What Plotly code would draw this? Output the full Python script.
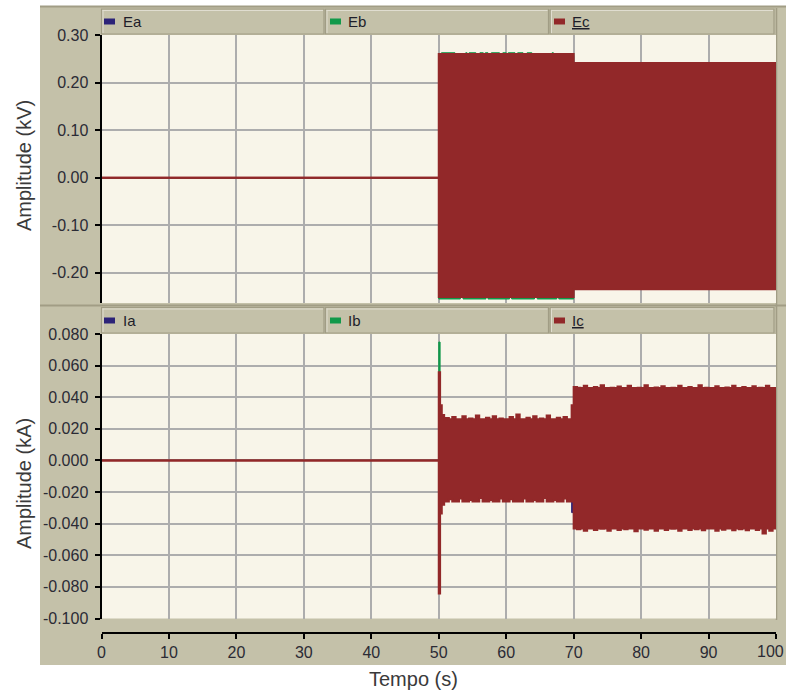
import plotly.graph_objects as go

W, H = 786, 694

# ---------------- data ----------------
X_TICKS = [0, 10, 20, 30, 40, 50, 60, 70, 80, 90, 100]
X_TICK_TEXT = ["0", "10", "20", "30", "40", "50", "60", "70", "80", "90", "100"]

V_TICKS = [-0.20, -0.10, 0.00, 0.10, 0.20, 0.30]
V_TICK_TEXT = ["-0.20", "-0.10", "0.00", "0.10", "0.20", "0.30"]

I_TICKS = [-0.100, -0.080, -0.060, -0.040, -0.020, 0.000, 0.020, 0.040, 0.060, 0.080]
I_TICK_TEXT = ["-0.100", "-0.080", "-0.060", "-0.040", "-0.020",
               "0.000", "0.020", "0.040", "0.060", "0.080"]

# Voltage envelopes (kV): step times and upper / lower envelope levels
EA_T = [0.0, 50.0, 70.0, 100.0]
EA_UP = [0.0, 0.255, 0.238, 0.238]
EA_LO = [0.0, -0.248, -0.232, -0.232]

EB_UP_T = [0.0, 50.0, 50.4, 52.4, 54.0, 54.2, 54.5, 55.5, 56.1, 56.6, 56.9, 57.3,
           57.8, 59.0, 59.5, 60.0, 60.3, 61.3, 61.7, 62.5, 63.1, 63.8, 66.8, 67.0,
           70.0, 100.0]
EB_UP = [0.0, 0.2585, 0.2627, 0.2585, 0.2627, 0.2585, 0.2627, 0.2585, 0.2627, 0.2585,
         0.2627, 0.2585, 0.2627, 0.2585, 0.2627, 0.2585, 0.2627, 0.2585, 0.2627, 0.2585,
         0.2627, 0.2585, 0.2627, 0.2585, 0.236, 0.236]
EB_LO_T = [0.0, 50.0, 53.2, 53.6, 57.0, 57.3, 60.5, 60.8, 64.2, 64.6, 67.5, 67.8,
           70.0, 100.0]
EB_LO = [0.0, -0.2550, -0.249, -0.2550, -0.249, -0.2550, -0.249, -0.2550, -0.249,
         -0.2550, -0.249, -0.2550, -0.230, -0.230]

EC_T = [0.0, 50.0, 70.0, 100.0]
EC_UP = [0.0, 0.2600, 0.2410, 0.2410]
EC_LO = [0.0, -0.2510, -0.2346, -0.2346]

# Current envelopes (kA)
IA_T = [0.0, 50.0, 50.2, 69.7, 70.0, 100.0]
IA_UP = [0.0, 0.040, 0.025, 0.030, 0.044, 0.044]
IA_LO = [0.0, -0.060, -0.024, -0.033, -0.042, -0.042]

IB_T = [0.0, 50.0, 50.2, 70.0, 100.0]
IB_UP = [0.0, 0.0749, 0.025, 0.044, 0.044]
IB_LO = [0.0, -0.060, -0.024, -0.042, -0.042]

# Ic: fault transient at 50 s, then two steady bands (sampled every 0.5 s)
IC_HEAD_T = [0.0, 50.0, 50.2, 50.45, 50.8]
IC_HEAD_UP = [0.0, 0.0558, 0.035, 0.0287, 0.026]
IC_HEAD_LO = [0.0, -0.0842, -0.0335, -0.028, -0.026]

IC_UP_B = [0.0268, 0.026, 0.0275, 0.026, 0.026, 0.028, 0.026, 0.0265, 0.026, 0.0285,
           0.026, 0.026, 0.027, 0.026, 0.028, 0.026, 0.0265, 0.026, 0.026, 0.0275,
           0.026, 0.029, 0.026, 0.026, 0.027, 0.026, 0.028, 0.026, 0.0265, 0.026,
           0.0285, 0.026, 0.026, 0.027, 0.026, 0.0275, 0.026, 0.026]
IC_LO_B = [-0.026, -0.0245, -0.026, -0.026, -0.024, -0.026, -0.026, -0.025, -0.026, -0.026,
           -0.0238, -0.026, -0.026, -0.025, -0.026, -0.026, -0.024, -0.026, -0.026, -0.0245,
           -0.026, -0.026, -0.026, -0.024, -0.026, -0.026, -0.025, -0.026, -0.026, -0.0238,
           -0.026, -0.026, -0.025, -0.026, -0.026, -0.024, -0.026, -0.026]

IC_MID_T = [69.7]
IC_MID_UP = [0.035]
IC_MID_LO = [-0.026]

IC_UP_C = [0.0465, 0.046, 0.0458, 0.0472, 0.0458, 0.0458, 0.0465, 0.0458, 0.0475, 0.0458,
           0.0458, 0.046, 0.0458, 0.0468, 0.0458, 0.0458, 0.0472, 0.0458, 0.0458, 0.046,
           0.0458, 0.0475, 0.0458, 0.0458, 0.0462, 0.0458, 0.047, 0.0458, 0.0458, 0.046,
           0.0458, 0.0472, 0.0458, 0.0458, 0.0465, 0.0458, 0.0458, 0.0475, 0.0458, 0.046,
           0.0458, 0.0458, 0.047, 0.0458, 0.0458, 0.0462, 0.0458, 0.0472, 0.0458, 0.0458,
           0.0465, 0.0458, 0.0458, 0.047, 0.0458, 0.046, 0.0458, 0.0472, 0.0458, 0.0458]
IC_LO_C = [-0.043, -0.0435, -0.043, -0.0445, -0.043, -0.043, -0.044, -0.043, -0.0432, -0.043,
           -0.0445, -0.043, -0.043, -0.044, -0.043, -0.0435, -0.043, -0.043, -0.0448, -0.043,
           -0.043, -0.0438, -0.043, -0.043, -0.0445, -0.043, -0.043, -0.044, -0.043, -0.0432,
           -0.043, -0.0445, -0.043, -0.043, -0.044, -0.043, -0.0435, -0.043, -0.0442, -0.043,
           -0.043, -0.043, -0.0445, -0.043, -0.0438, -0.043, -0.043, -0.0442, -0.043, -0.0435,
           -0.043, -0.0442, -0.043, -0.043, -0.044, -0.043, -0.0462, -0.043, -0.0445, -0.043]

IC_T = (IC_HEAD_T + [51.0 + 0.5 * i for i in range(len(IC_UP_B))] + IC_MID_T
        + [70.0 + 0.5 * i for i in range(len(IC_UP_C))] + [100.0])
IC_UP = IC_HEAD_UP + IC_UP_B + IC_MID_UP + IC_UP_C + [IC_UP_C[-1]]
IC_LO = IC_HEAD_LO + IC_LO_B + IC_MID_LO + IC_LO_C + [IC_LO_C[-1]]

# ---------------- styling ----------------
NAVY = "#2c2378"
GREEN = "#11994a"
RED = "#922829"
CREAM = "#f8f5e9"
PANEL = "#c4c1a9"
PANEL_DARK = "#a19d85"
PANEL_LIGHT = "#e0ddd0"
GRID = "#adadad"
FONT = "Liberation Sans, Arial, sans-serif"


def px(x):
    return x / W


def py(y):
    return 1 - y / H


X_DOM = [px(101.5), px(776)]
TOP_DOM = [py(303), py(35)]
BOT_DOM = [py(618.5), py(334)]


def band(t_up, up, t_lo, lo, color, xa, ya, name, lw):
    common = dict(mode="lines", xaxis=xa, yaxis=ya, hoverinfo="skip", showlegend=False,
                  line=dict(color=color, width=lw, shape="hv"), name=name)
    return [go.Scatter(x=t_up, y=up, **common),
            go.Scatter(x=t_lo, y=lo, fill="tonexty", fillcolor=color, **common)]


traces = []
traces += band(EA_T, EA_UP, EA_T, EA_LO, NAVY, "x", "y", "Ea", 1.0)
traces += band(EB_UP_T, EB_UP, EB_LO_T, EB_LO, GREEN, "x", "y", "Eb", 1.0)
traces += band(EC_T, EC_UP, EC_T, EC_LO, RED, "x", "y", "Ec", 2.0)
traces += band(IA_T, IA_UP, IA_T, IA_LO, NAVY, "x2", "y2", "Ia", 1.0)
traces += band(IB_T, IB_UP, IB_T, IB_LO, GREEN, "x2", "y2", "Ib", 1.0)
traces += band(IC_T, IC_UP, IC_T, IC_LO, RED, "x2", "y2", "Ic", 2.0)

fig = go.Figure(traces)

shapes = []


def rect(x0, y0, x1, y1, fill, line=None, lw=0):
    shapes.append(dict(type="rect", xref="paper", yref="paper", layer="below",
                       x0=px(x0), x1=px(x1), y0=py(y1), y1=py(y0),
                       fillcolor=fill, line=dict(color=line or fill, width=lw)))


def hline(x0, x1, y, color, lw):
    shapes.append(dict(type="line", xref="paper", yref="paper", layer="below",
                       x0=px(x0), x1=px(x1), y0=py(y), y1=py(y),
                       line=dict(color=color, width=lw)))


def vline(x, y0, y1, color, lw):
    shapes.append(dict(type="line", xref="paper", yref="paper", layer="below",
                       x0=px(x), x1=px(x), y0=py(y0), y1=py(y1),
                       line=dict(color=color, width=lw)))


# window panel
rect(40, 6, 786, 665, PANEL)
hline(40, 786, 6.5, PANEL_DARK, 2)
hline(40, 786, 305.5, PANEL_DARK, 2)
vline(776.5, 8, 620, PANEL_DARK, 1.5)

# plot areas
rect(101.5, 35, 776, 303, CREAM)
rect(101.5, 334, 776, 618.5, CREAM)

# legend strips
CELLS = [(101.5, 324), (325.5, 548.5), (550, 774)]
for (y0, y1) in [(9, 34), (307.5, 333)]:
    for (x0, x1) in CELLS:
        rect(x0, y0, x1, y1, PANEL, PANEL_DARK, 1.2)
        hline(x0 + 1, x1 - 1, y0 + 1.5, PANEL_LIGHT, 1)
        vline(x0 + 1.5, y0 + 1, y1 - 1, PANEL_LIGHT, 1)

LEGEND_ROWS = [(["Ea", "Eb", "<u>Ec</u>"], 21.5), (["Ia", "Ib", "<u>Ic</u>"], 320.5)]
SWATCH_X = [104, 330, 554]
LABEL_X = [121, 346, 570]
SWATCH_COLORS = [NAVY, GREEN, RED]

annotations = []
for labels, yc in LEGEND_ROWS:
    for lab, sx, lx, col in zip(labels, SWATCH_X, LABEL_X, SWATCH_COLORS):
        rect(sx, yc - 3, sx + 11, yc + 3, col)
        annotations.append(dict(text=lab, xref="paper", yref="paper", x=px(lx), y=py(yc),
                                xanchor="left", yanchor="middle", showarrow=False,
                                font=dict(family=FONT, size=15, color="#1e1e2a")))

TITLE_FONT = dict(family=FONT, size=20, color="#3a3a3a")
annotations += [
    dict(text="Amplitude (kV)", xref="paper", yref="paper", x=px(24), y=py(166),
         textangle=-90, showarrow=False, xanchor="center", yanchor="middle", font=TITLE_FONT),
    dict(text="Amplitude (kA)", xref="paper", yref="paper", x=px(24), y=py(484),
         textangle=-90, showarrow=False, xanchor="center", yanchor="middle", font=TITLE_FONT),
    dict(text="Tempo (s)", xref="paper", yref="paper", x=px(413), y=py(679),
         showarrow=False, xanchor="center", yanchor="middle", font=TITLE_FONT),
]

TICK_FONT = dict(family=FONT, size=16, color="#2b2b35")

# the last time label sits flush against the right edge of the window
x_tick_text_axis = X_TICK_TEXT[:-1] + [""]
annotations.append(dict(text=X_TICK_TEXT[-1], xref="paper", yref="paper", x=1.0,
                        y=py(641), xanchor="right", yanchor="top", showarrow=False,
                        font=TICK_FONT))

yaxis_common = dict(showline=True, linecolor="black", linewidth=2, ticks="outside",
                    ticklen=5, tickwidth=1.5, tickcolor="black", showgrid=True,
                    gridcolor=GRID, gridwidth=1.6, zeroline=False, tickfont=TICK_FONT,
                    fixedrange=True, ticklabelstandoff=3, automargin=False)
xgrid_common = dict(range=[0, 100], domain=X_DOM, tickvals=X_TICKS, showgrid=True,
                    gridcolor=GRID, gridwidth=1.6, zeroline=False, fixedrange=True,
                    automargin=False)

fig.update_layout(
    width=W, height=H,
    margin=dict(l=0, r=0, t=0, b=0, pad=0),
    paper_bgcolor="white",
    plot_bgcolor="rgba(0,0,0,0)",
    showlegend=False,
    shapes=shapes,
    annotations=annotations,
    xaxis=dict(anchor="y", showticklabels=False, ticks="", showline=False, **xgrid_common),
    yaxis=dict(anchor="x", domain=TOP_DOM, range=[-0.2634, 0.30],
               tickvals=V_TICKS, ticktext=V_TICK_TEXT, **yaxis_common),
    xaxis2=dict(anchor="free", position=py(633), ticktext=x_tick_text_axis, showline=True,
                linecolor="black", linewidth=2, ticks="outside", ticklen=5, tickwidth=1.5,
                tickcolor="black", tickfont=TICK_FONT, **xgrid_common),
    yaxis2=dict(anchor="x2", domain=BOT_DOM, range=[-0.100, 0.080],
                tickvals=I_TICKS, ticktext=I_TICK_TEXT, **yaxis_common),
)

fig.write_html("out.html")
